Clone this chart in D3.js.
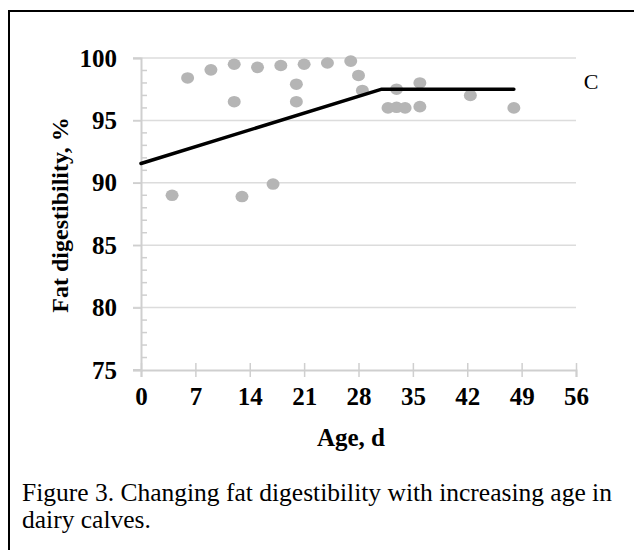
<!DOCTYPE html>
<html><head><meta charset="utf-8">
<script src="https://cdn.jsdelivr.net/npm/d3@7"></script>
<style>html,body{margin:0;padding:0;background:#fff;}svg{display:block;}</style>
</head><body>
<svg id="c" width="634" height="550"></svg>
<script>
// Observed data: age (d) and fat digestibility (%)
const ages = [4, 6, 9, 12, 12, 13, 15, 17, 18, 20, 20, 21, 24, 27, 28, 28.5, 31.8, 32.9, 32.9, 34, 35.9, 35.9, 42.4, 48];
const digest = [89.0, 98.4, 99.05, 99.5, 96.5, 88.9, 99.25, 89.9, 99.4, 97.9, 96.5, 99.5, 99.6, 99.75, 98.6, 97.4, 96.0, 97.5, 96.05, 96.0, 98.0, 96.1, 97.0, 96.0];
// Broken-line fit
const fitAges = [0, 31, 48];
const fitValues = [91.55, 97.5, 97.5];
const xTicks = [0, 7, 14, 21, 28, 35, 42, 49, 56];
const yTicks = [75, 80, 85, 90, 95, 100];
const yMinor = d3.range(75, 101, 1);
const xTitle = "Age, d";
const yTitle = "Fat digestibility, %";
const panelLabel = "C";
const captionLines = ["Figure 3. Changing fat digestibility with increasing age in", "dairy calves."];

const svg = d3.select("#c");
const serif = "'Liberation Serif','Times New Roman',serif";

// frame
svg.append("rect").attr("x", 9).attr("y", 11).attr("width", 640).attr("height", 560)
  .attr("fill", "none").attr("stroke", "#000").attr("stroke-width", 2);

const x = d3.scaleLinear().domain([0, 56]).range([141, 576]);
const y = d3.scaleLinear().domain([75, 100]).range([370, 58]);

const grid = "#dcdcdc", axisCol = "#cfcfcf";

// gridlines
svg.append("g").selectAll("line").data(yTicks.filter(v => v > 75)).join("line")
  .attr("x1", x(0) - 8).attr("x2", x(56)).attr("y1", d => y(d)).attr("y2", d => y(d))
  .attr("stroke", grid).attr("stroke-width", 1.5);

// y axis
const yAxis = svg.append("g").attr("transform", `translate(${x(0)},0)`)
  .call(d3.axisLeft(y).tickValues(yTicks).tickSize(8).tickPadding(16).tickFormat(d3.format("d")));
yAxis.select(".domain").attr("stroke", axisCol).attr("stroke-width", 2);
yAxis.selectAll(".tick line").attr("stroke", axisCol).attr("stroke-width", 1.5);
yAxis.selectAll("text").attr("font-family", serif).attr("font-weight", "bold").attr("font-size", 25).attr("fill", "#000");
// minor ticks (inside)
svg.append("g").selectAll("line").data(yMinor.filter(v => v % 5 !== 0)).join("line")
  .attr("x1", x(0)).attr("x2", x(0) + 6).attr("y1", d => y(d)).attr("y2", d => y(d))
  .attr("stroke", axisCol).attr("stroke-width", 1.5);

// x axis
const xAxis = svg.append("g").attr("transform", `translate(0,${y(75)})`)
  .call(d3.axisBottom(x).tickValues(xTicks).tickSize(7).tickPadding(10).tickFormat(d3.format("d")));
xAxis.select(".domain").attr("stroke", axisCol).attr("stroke-width", 2);
xAxis.selectAll(".tick line").attr("y1", -7).attr("stroke", axisCol).attr("stroke-width", 1.5);
xAxis.selectAll("text").attr("font-family", serif).attr("font-weight", "bold").attr("font-size", 25).attr("fill", "#000");
// left extension of x axis
svg.append("line").attr("x1", x(0) - 8).attr("x2", x(0)).attr("y1", y(75)).attr("y2", y(75))
  .attr("stroke", axisCol).attr("stroke-width", 2);

// points
svg.append("g").selectAll("ellipse").data(ages.map((a, i) => [a, digest[i]])).join("ellipse")
  .attr("cx", d => x(d[0])).attr("cy", d => y(d[1])).attr("rx", 6.5).attr("ry", 5.8)
  .attr("fill", "#b5b5b5");

// fit line
svg.append("path").datum(fitAges.map((a, i) => [a, fitValues[i]]))
  .attr("d", d3.line().x(d => x(d[0])).y(d => y(d[1])))
  .attr("fill", "none").attr("stroke", "#000").attr("stroke-width", 3.5)
  .attr("stroke-linejoin", "round").attr("stroke-linecap", "round");

// titles
svg.append("text").attr("x", 351).attr("y", 446).attr("text-anchor", "middle")
  .attr("font-family", serif).attr("font-weight", "bold").attr("font-size", 25).text(xTitle);
svg.append("text").attr("transform", "translate(68,215) rotate(-90)").attr("text-anchor", "middle")
  .attr("font-family", serif).attr("font-weight", "bold").attr("font-size", 24).text(yTitle);
svg.append("text").attr("x", 591).attr("y", 89).attr("text-anchor", "middle")
  .attr("font-family", serif).attr("font-size", 22).text(panelLabel);

// caption
const cap = svg.append("g");
const t1 = cap.append("text").attr("x", 22).attr("y", 501).attr("font-family", serif).attr("font-size", 22).text(captionLines[0]);
const w = t1.node().getComputedTextLength();
const fs = 22 * 590 / w;
t1.attr("font-size", fs);
cap.append("text").attr("x", 22).attr("y", 528).attr("font-family", serif).attr("font-size", fs).text(captionLines[1]);
</script>
</body></html>
